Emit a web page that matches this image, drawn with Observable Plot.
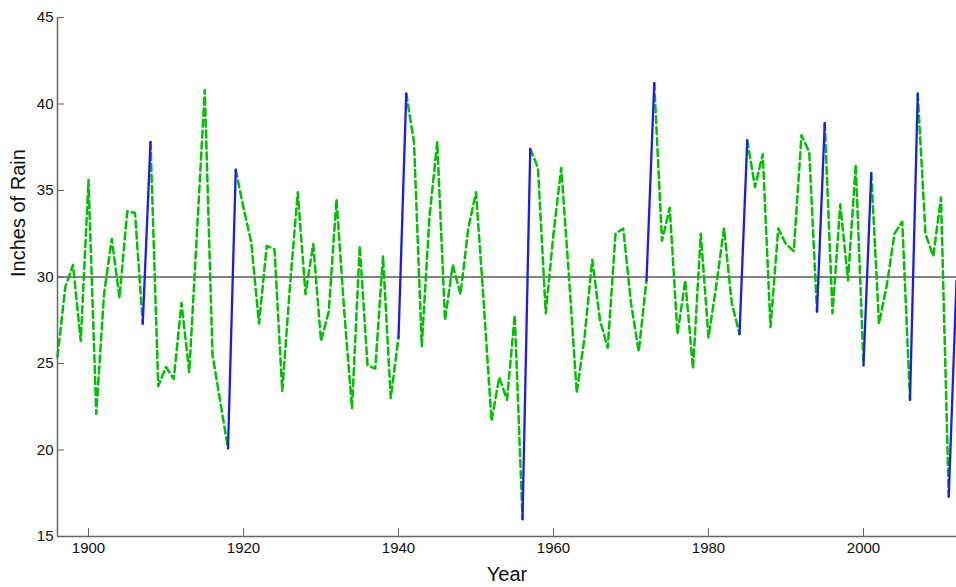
<!DOCTYPE html>
<html><head><meta charset="utf-8">
<script src="https://cdn.jsdelivr.net/npm/d3@7"></script>
<script src="https://cdn.jsdelivr.net/npm/@observablehq/plot@0.6"></script>
<style>html,body{margin:0;padding:0;background:#fff;} svg{display:block}</style>
</head><body><div id="chart"></div>
<script>
const years = [1896,1897,1898,1899,1900,1901,1902,1903,1904,1905,1906,1907,1908,1909,1910,1911,1912,1913,1914,1915,
1916,1917,1918,1919,1920,1921,1922,1923,1924,1925,1926,1927,1928,1929,1930,1931,1932,1933,1934,1935,
1936,1937,1938,1939,1940,1941,1942,1943,1944,1945,1946,1947,1948,1949,1950,1951,1952,1953,1954,1955,
1956,1957,1958,1959,1960,1961,1962,1963,1964,1965,1966,1967,1968,1969,1970,1971,1972,1973,1974,1975,
1976,1977,1978,1979,1980,1981,1982,1983,1984,1985,1986,1987,1988,1989,1990,1991,1992,1993,1994,1995,
1996,1997,1998,1999,2000,2001,2002,2003,2004,2005,2006,2007,2008,2009,2010,2011,2012];
const rain = [25.4,29.4,30.7,26.3,35.6,22.1,29.0,32.2,28.8,33.8,33.7,27.3,37.8,23.7,24.8,24.1,28.5,24.5,32.6,40.8,
25.5,22.8,20.1,36.2,34.0,32.0,27.3,31.8,31.6,23.4,29.5,34.9,29.0,31.9,26.3,28.0,34.5,28.0,22.4,31.8,
24.9,24.7,31.2,23.0,26.5,40.6,37.8,26.0,33.5,37.8,27.5,30.7,29.0,32.8,34.9,28.5,21.7,24.2,22.9,27.8,
16.0,37.4,36.3,27.9,32.5,36.3,30.0,23.3,26.5,31.0,27.5,25.9,32.5,32.8,28.5,25.7,29.8,41.2,32.1,34.0,
26.7,29.8,24.7,32.5,26.5,29.5,32.8,28.5,26.7,37.9,35.2,37.1,27.1,32.8,31.9,31.5,38.2,37.2,28.0,38.9,
27.9,34.2,29.8,36.5,24.9,36.0,27.3,29.5,32.5,33.2,22.9,40.6,32.5,31.2,34.6,17.3,29.8];
const xTicks = [1900,1920,1940,1960,1980,2000];
const yTicks = [15,20,25,30,35,40,45];
const xDomain = [1896, 2012];
const yDomain = [15, 45];
const referenceLevel = [30];
const bigRise = 10;
const xLabel = "Year";
const yLabel = "Inches of Rain";

// split the series into runs of ordinary years and big one-year rises
const rows = [];
let run = -1, kind = null;
for (let i = 0; i < years.length - 1; i++) {
  const k = rain[i + 1] - rain[i] > bigRise ? "big" : "normal";
  if (k !== kind) { run++; kind = k; rows.push({year: years[i], rain: rain[i], run, kind: k}); }
  rows.push({year: years[i + 1], rain: rain[i + 1], run, kind: k});
}

const font = "'Liberation Sans', Arial, Helvetica, sans-serif";
const axisColor = "#666";

const chart = Plot.plot({
  width: 956, height: 587,
  marginTop: 17, marginBottom: 51, marginLeft: 57, marginRight: 0,
  style: {fontFamily: font, fontSize: "15px", color: "#111", background: "#fff", overflow: "visible"},
  x: {domain: xDomain},
  y: {domain: yDomain},
  marks: [
    Plot.ruleY(referenceLevel, {stroke: "#5a5a5a", strokeWidth: 1.5}),
    Plot.line(rows.filter(d => d.kind === "normal"), {x: "year", y: "rain", z: "run", stroke: "#00c000", strokeWidth: 2.5, strokeDasharray: "7,4"}),
    Plot.line(rows.filter(d => d.kind === "big"), {x: "year", y: "rain", z: "run", stroke: "#1c1cf0", strokeWidth: 2.3}),
    Plot.ruleX([xDomain[0]], {stroke: axisColor, strokeWidth: 1.5}),
    Plot.ruleY([yDomain[0]], {stroke: axisColor, strokeWidth: 1.5}),
    Plot.axisX({ticks: xTicks, tickFormat: d => String(d), tickSize: 0, tickPadding: 6, label: null, fontSize: 15}),
    Plot.axisX({ticks: xTicks, tickSize: -8, text: null, label: null, stroke: axisColor}),
    Plot.axisY({ticks: yTicks, tickSize: 0, tickPadding: 4, label: null, fontSize: 15}),
    Plot.axisY({ticks: yTicks, tickSize: -7, text: null, label: null, stroke: axisColor}),
    Plot.text([yLabel], {frameAnchor: "left", rotate: -90, dx: -39, fontSize: 20, fill: "#111"}),
    Plot.text([xLabel], {frameAnchor: "bottom", dy: 44, fontSize: 20, fill: "#111"})
  ]
});
document.getElementById("chart").append(chart);
</script>
</body></html>
